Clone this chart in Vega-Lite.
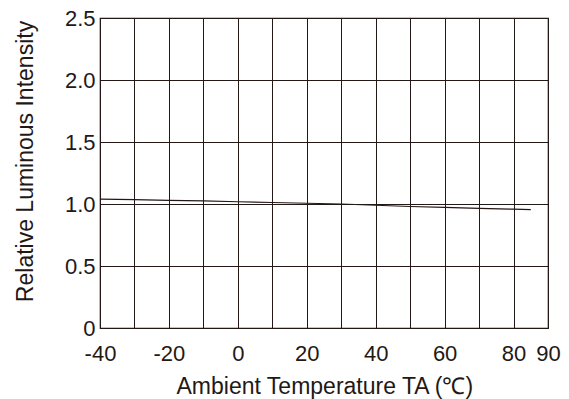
{
  "$schema": "https://vega.github.io/schema/vega-lite/v6.json",
  "width": 448,
  "height": 310,
  "autosize": {"type": "none"},
  "padding": {"left": 100, "top": 18, "right": 21, "bottom": 71},
  "background": "white",
  "config": {
    "view": {"stroke": "#231815", "strokeWidth": 1.2},
    "font": "Liberation Sans"
  },
  "data": {
    "values": [
      {"t": -40, "v": 1.04},
      {"t": -30, "v": 1.035},
      {"t": -20, "v": 1.03},
      {"t": -10, "v": 1.025},
      {"t": 0, "v": 1.018},
      {"t": 10, "v": 1.012},
      {"t": 20, "v": 1.006},
      {"t": 30, "v": 1.0},
      {"t": 40, "v": 0.99},
      {"t": 50, "v": 0.98},
      {"t": 60, "v": 0.972},
      {"t": 70, "v": 0.964},
      {"t": 80, "v": 0.958},
      {"t": 85, "v": 0.954}
    ]
  },
  "mark": {"type": "line", "color": "#231815", "strokeWidth": 1.2},
  "encoding": {
    "x": {
      "field": "t",
      "type": "quantitative",
      "scale": {"domain": [-40, 90], "nice": false, "zero": false},
      "axis": {
        "values": [-40, -30, -20, -10, 0, 10, 20, 30, 40, 50, 60, 70, 80, 90],
        "labelExpr": "indexof([-40, -20, 0, 20, 40, 60, 80, 90], datum.value) >= 0 ? ('' + datum.value) : ''",
        "grid": true,
        "gridColor": "#231815",
        "gridOpacity": 1,
        "gridWidth": 1,
        "domain": false,
        "ticks": false,
        "labelFontSize": 22,
        "labelColor": "#231815",
        "labelFont": "Liberation Sans",
        "labelBaseline": "alphabetic",
        "labelPadding": 32,
        "labelFlush": false,
        "labelOverlap": false,
        "title": "Ambient Temperature TA (℃)",
        "titleFontSize": 23,
        "titleFontWeight": "normal",
        "titleColor": "#231815",
        "titleFont": "Liberation Sans",
        "titleAlign": "left",
        "titleAnchor": "start",
        "titleBaseline": "alphabetic",
        "titleX": 76,
        "titleY": 65
      }
    },
    "y": {
      "field": "v",
      "type": "quantitative",
      "scale": {"domain": [0, 2.5], "nice": false, "zero": false},
      "axis": {
        "values": [0, 0.5, 1, 1.5, 2, 2.5],
        "labelExpr": "datum.value == 0 ? '0' : format(datum.value, '.1f')",
        "grid": true,
        "gridColor": "#231815",
        "gridOpacity": 1,
        "gridWidth": 1,
        "domain": false,
        "ticks": false,
        "labelFontSize": 22,
        "labelColor": "#231815",
        "labelFont": "Liberation Sans",
        "labelPadding": 5,
        "labelFlush": false,
        "labelOverlap": false,
        "title": "Relative Luminous Intensity",
        "titleFontSize": 23,
        "titleFontWeight": "normal",
        "titleColor": "#231815",
        "titleFont": "Liberation Sans",
        "titleAngle": -90,
        "titleAlign": "center",
        "titleBaseline": "alphabetic",
        "titleX": -68,
        "titleY": 143
      }
    }
  }
}
